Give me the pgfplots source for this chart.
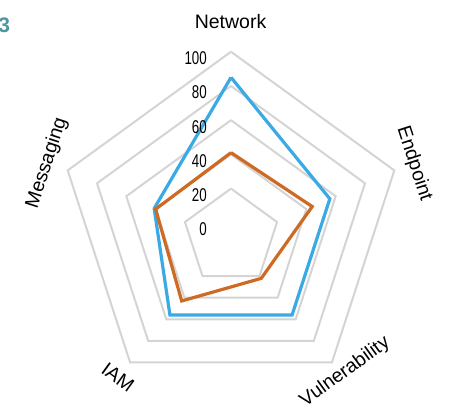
\documentclass[border=0pt]{standalone}
\usepackage{fontspec}
\setmainfont{Liberation Sans}
\usepackage{pgfplots}
\usepackage{pgfplotstable}
\pgfplotsset{compat=1.18}

\definecolor{gridgrey}{HTML}{D4D4D4}
\definecolor{skyblue}{HTML}{3AA9E4}
\definecolor{rust}{HTML}{CD6B25}
\definecolor{teal3}{HTML}{4B96A0}

% spoke angle, scores (last row closes the shape)
\pgfplotstableread{
a     blue  orange
90    85    41
18    56    44
-54   56    22
-126  56    43
162   41    40
90    85    41
}\scores

\begin{document}
\begin{tikzpicture}
\begin{axis}[
  hide axis, scale only axis,
  width=458pt, height=407pt,
  xmin=-149.9, xmax=147.3, ymin=-108.1, ymax=156.0,
  clip=false,
]
\coordinate (bl) at (rel axis cs:0,0);
\coordinate (tr) at (rel axis cs:1,1);

% pentagon grid, 20 to 100
\pgfplotsinvokeforeach{20,40,60,80,100}{
  \addplot[gridgrey, line width=2pt, mark=none] table[
    x expr={(#1+11.42)*cos(\thisrow{a})},
    y expr={(#1+11.42)*sin(\thisrow{a})+0.11*#1}] {\scores};
}

\addplot[skyblue, line width=3.2pt, mark=none] table[
  x expr={(\thisrow{blue}+11.42)*cos(\thisrow{a})},
  y expr={(\thisrow{blue}+11.42)*sin(\thisrow{a})+0.11*\thisrow{blue}}] {\scores};
\addplot[rust, line width=3.2pt, mark=none] table[
  x expr={(\thisrow{orange}+11.42)*cos(\thisrow{a})},
  y expr={(\thisrow{orange}+11.42)*sin(\thisrow{a})+0.11*\thisrow{orange}}] {\scores};

% radial tick labels
\pgfplotsinvokeforeach{0,20,40,60,80,100}{
  \node[anchor=east, inner sep=0pt, font=\fontsize{18.5}{20}\selectfont]
    at (axis cs:-15.6,{1.11*#1+11.42-4.2}) {\scalebox{0.72}[1]{#1}};
}

% category labels
\begin{scope}[every node/.style={font=\fontsize{19.5}{22}\selectfont, inner sep=0pt}]
\node at (axis cs:-0.3,141.8) {Network};
\node[rotate=-72] at (axis cs:118.8,49.6) {Endpoint};
\node[rotate=36] at (axis cs:74.0,-85.4) {Vulnerability};
\node[rotate=-36] at (axis cs:-73.3,-88.6) {IAM};
\node[rotate=72] at (axis cs:-119.4,50.2) {Messaging};
\end{scope}

\node[anchor=east, inner sep=0pt, text=teal3, font=\fontsize{21}{22}\selectfont\bfseries]
  at (axis cs:-143.2,139.5) {3};
\end{axis}
\pgfresetboundingbox
\path[use as bounding box] (bl) rectangle (tr);
\end{tikzpicture}
\end{document}
